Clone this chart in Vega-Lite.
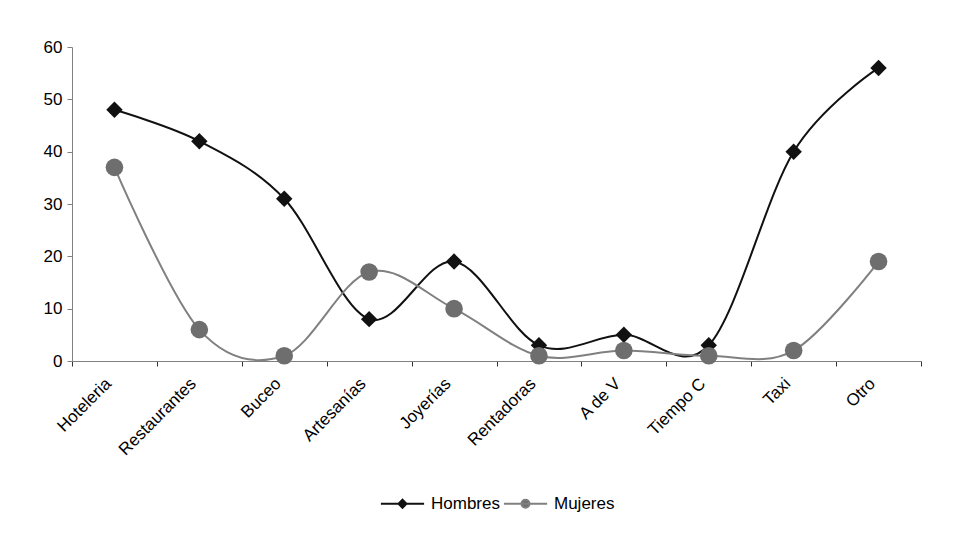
{
  "$schema": "https://vega.github.io/schema/vega-lite/v6.json",
  "autosize": {"type": "none"},
  "width": 849,
  "height": 314,
  "padding": {"left": 72, "top": 47, "right": 34, "bottom": 172},
  "background": "white",
  "config": {
    "view": {"stroke": null},
    "font": "Liberation Sans",
    "axis": {"labelFont": "Liberation Sans", "labelFontSize": 17, "labelColor": "#000000", "domainColor": "#808080", "tickColor": "#333333", "grid": false, "title": null}
  },
  "data": {
    "values": [
      {"cat": "Hoteleria", "serie": "Hombres", "v": 48},
      {"cat": "Restaurantes", "serie": "Hombres", "v": 42},
      {"cat": "Buceo", "serie": "Hombres", "v": 31},
      {"cat": "Artesanías", "serie": "Hombres", "v": 8},
      {"cat": "Joyerías", "serie": "Hombres", "v": 19},
      {"cat": "Rentadoras", "serie": "Hombres", "v": 3},
      {"cat": "A de V", "serie": "Hombres", "v": 5},
      {"cat": "Tiempo C", "serie": "Hombres", "v": 3},
      {"cat": "Taxi", "serie": "Hombres", "v": 40},
      {"cat": "Otro", "serie": "Hombres", "v": 56},
      {"cat": "Hoteleria", "serie": "Mujeres", "v": 37},
      {"cat": "Restaurantes", "serie": "Mujeres", "v": 6},
      {"cat": "Buceo", "serie": "Mujeres", "v": 1},
      {"cat": "Artesanías", "serie": "Mujeres", "v": 17},
      {"cat": "Joyerías", "serie": "Mujeres", "v": 10},
      {"cat": "Rentadoras", "serie": "Mujeres", "v": 1},
      {"cat": "A de V", "serie": "Mujeres", "v": 2},
      {"cat": "Tiempo C", "serie": "Mujeres", "v": 1},
      {"cat": "Taxi", "serie": "Mujeres", "v": 2},
      {"cat": "Otro", "serie": "Mujeres", "v": 19}
    ]
  },
  "encoding": {
    "x": {
      "field": "cat",
      "type": "nominal",
      "sort": ["Hoteleria", "Restaurantes", "Buceo", "Artesanías", "Joyerías", "Rentadoras", "A de V", "Tiempo C", "Taxi", "Otro"],
      "scale": {"type": "band", "paddingInner": 0, "paddingOuter": 0},
      "axis": {"labelAngle": -45, "labelAlign": "right", "labelBaseline": "top", "tickBand": "extent", "tickSize": 5, "labelPadding": 9, "labelOffset": -12}
    },
    "y": {
      "field": "v",
      "type": "quantitative",
      "scale": {"domain": [0, 60], "nice": false},
      "axis": {"values": [0, 10, 20, 30, 40, 50, 60], "tickSize": 5, "labelPadding": 5, "tickColor": "#808080"}
    }
  },
  "layer": [
    {
      "mark": {"type": "line", "interpolate": "cardinal", "strokeWidth": 2},
      "encoding": {
        "color": {
          "field": "serie", "type": "nominal",
          "scale": {"domain": ["Hombres", "Mujeres"], "range": ["#111111", "#808080"]},
          "legend": {
            "orient": "none", "direction": "horizontal", "title": null,
            "legendX": 322, "legendY": 448,
            "symbolSize": 64, "labelOffset": 20, "columnPadding": -1,
            "labelFont": "Liberation Sans", "labelFontSize": 17, "labelColor": "#000000",
            "encode": {
              "symbols": {
                "update": {
                  "shape": {"signal": "datum.value === 'Hombres' ? 'M-5.4,0H5.4M0,-1L1,0L0,1L-1,0Z' : 'M-5.4,0H5.4M1,0A1,1,0,1,1,-1,0A1,1,0,1,1,1,0Z'"},
                  "stroke": {"signal": "datum.value === 'Hombres' ? '#111111' : '#808080'"},
                  "fill": {"signal": "datum.value === 'Hombres' ? '#111111' : '#6e6e6e'"},
                  "strokeWidth": {"value": 2},
                  "opacity": {"value": 1}
                }
              }
            }
          }
        }
      }
    },
    {
      "transform": [{"filter": "datum.serie === 'Hombres'"}],
      "mark": {"type": "point", "filled": true, "opacity": 1, "shape": "diamond", "size": 270, "color": "#111111"}
    },
    {
      "transform": [{"filter": "datum.serie === 'Mujeres'"}],
      "mark": {"type": "point", "filled": true, "opacity": 1, "shape": "circle", "size": 310, "color": "#6e6e6e"}
    }
  ]
}
